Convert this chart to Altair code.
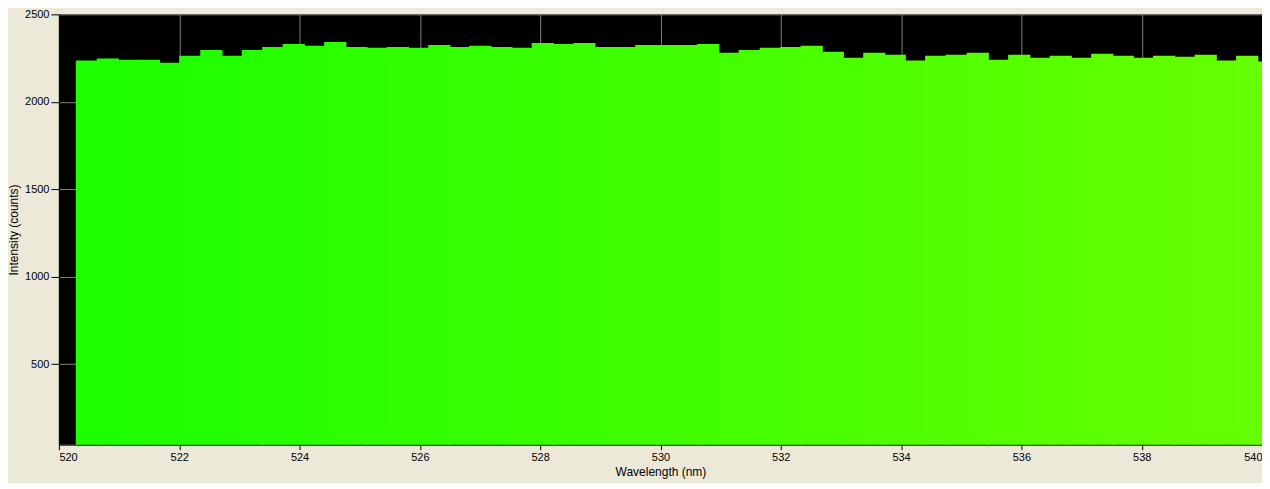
import altair as alt
import pandas as pd

# Left edge of each spectrometer bin (nm)
wavelength_start = [
    520.28, 520.63, 520.97, 521.31, 521.66, 522.00, 522.35, 522.69, 523.04, 523.38,
    523.72, 524.07, 524.41, 524.76, 525.10, 525.45, 525.79, 526.14, 526.48, 526.82,
    527.17, 527.51, 527.86, 528.20, 528.55, 528.89, 529.24, 529.58, 529.92, 530.27,
    530.61, 530.96, 531.30, 531.65, 531.99, 532.33, 532.68, 533.02, 533.37, 533.71,
    534.06, 534.40, 534.74, 535.09, 535.43, 535.78, 536.12, 536.47, 536.81, 537.16,
    537.50, 537.84, 538.19, 538.53, 538.88, 539.22, 539.57, 539.91,
]
# Intensity (counts) per bin
intensity = [
    2236, 2247, 2241, 2241, 2224, 2264, 2297, 2264, 2297, 2314,
    2331, 2320, 2342, 2314, 2309, 2314, 2309, 2325, 2314, 2320,
    2314, 2309, 2337, 2331, 2337, 2314, 2314, 2325, 2325, 2325,
    2331, 2281, 2297, 2309, 2314, 2320, 2286, 2252, 2281, 2269,
    2236, 2264, 2269, 2281, 2241, 2269, 2252, 2264, 2252, 2275,
    2264, 2252, 2264, 2258, 2269, 2236, 2264, 2230,
]
x_ticks = [520, 522, 524, 526, 528, 530, 532, 534, 536, 538, 540]
y_ticks = [500, 1000, 1500, 2000, 2500]
BIN_WIDTH = 0.3444
OVERLAP = 0.025  # small overlap so adjacent bins leave no anti-aliasing seams

df = pd.DataFrame({"start": wavelength_start, "intensity": intensity})

color_scale = alt.Scale(domain=[520, 540], range=["#1aff00", "#66ff00"], interpolate="rgb")

chart = (
    alt.Chart(df)
    .transform_calculate(end=f"datum.start + {BIN_WIDTH + OVERLAP}")
    .mark_bar(clip=True, strokeWidth=0)
    .encode(
        x=alt.X(
            "start:Q",
            scale=alt.Scale(domain=[520, 540], nice=False, zero=False),
            axis=alt.Axis(values=x_ticks, format="d", title="Wavelength (nm)",
                          tickSize=5, labelPadding=2, titlePadding=4, labelFlush=True),
        ),
        x2="end:Q",
        y=alt.Y(
            "intensity:Q",
            scale=alt.Scale(domain=[40, 2500], nice=False, zero=False),
            axis=alt.Axis(values=y_ticks, format="d", title="Intensity (counts)",
                          tickSize=8, labelPadding=2, titlePadding=4),
        ),
        y2=alt.datum(0),
        fill=alt.Fill("start:Q", scale=color_scale, legend=None),
    )
    .properties(
        width=1205,
        height=431,
        autosize=alt.AutoSizeParams(type="none"),
        padding={"left": 51, "top": 6, "right": 0, "bottom": 38},
        background="#ECE9D8",
    )
    .configure_view(fill="black", stroke=None)
    .configure_axis(
        grid=True,
        gridColor="#808080",
        gridWidth=1,
        domainColor="black",
        tickColor="black",
        labelColor="black",
        titleColor="black",
        labelFont="Liberation Sans",
        titleFont="Liberation Sans",
        labelFontSize=11,
        titleFontSize=12,
        titleFontWeight="normal",
    )
)

chart.save("out.html", embed_options={"renderer": "svg", "actions": False})
